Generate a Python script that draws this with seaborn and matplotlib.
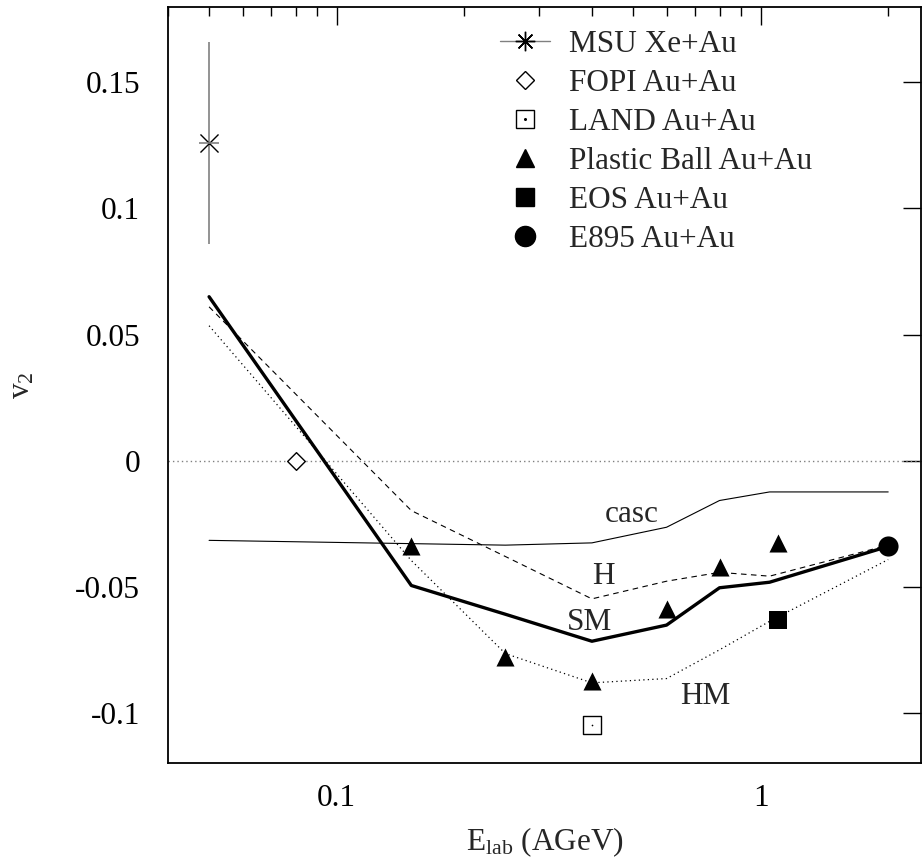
import numpy as np
import pandas as pd
import matplotlib
matplotlib.use("Agg")
import matplotlib.pyplot as plt
from matplotlib.lines import Line2D
from matplotlib.ticker import FixedLocator, FixedFormatter, LogLocator, NullFormatter
import seaborn as sns

# ---------------- data ----------------
msu_E = [0.05]
msu_v2 = [0.126]
msu_err = [0.040]

fopi_E = [0.08]
fopi_v2 = [0.0]

land_E = [0.4]
land_v2 = [-0.105]

pb_E = [0.15, 0.25, 0.4, 0.6, 0.8, 1.1]
pb_v2 = [-0.034, -0.078, -0.0875, -0.059, -0.042, -0.0325]

eos_E = [1.1]
eos_v2 = [-0.063]

e895_E = [2.0]
e895_v2 = [-0.034]

calc_E = [0.05, 0.15, 0.25, 0.4, 0.6, 0.8, 1.05, 2.0]
casc_v2 = [-0.0316, -0.0329, -0.0335, -0.0326, -0.0264, -0.0158, -0.0124, -0.0124]
H_v2 = [0.061, -0.0198, -0.038, -0.0548, -0.0478, -0.0443, -0.0458, -0.0335]
SM_v2 = [0.065, -0.0495, -0.0609, -0.0716, -0.0652, -0.0504, -0.0482, -0.034]
HM_v2 = [0.0535, -0.0396, -0.0765, -0.0881, -0.0864, -0.075, -0.0637, -0.0392]

x_ticks = [0.1, 1]
x_ticklabels = ["0.1", "1"]
y_ticks = [-0.1, -0.05, 0, 0.05, 0.1, 0.15]
y_ticklabels = ["-0.1", "-0.05", "0", "0.05", "0.1", "0.15"]

# ---------------- style ----------------
sns.set_theme(style="white")
plt.rcParams["font.family"] = ["Liberation Serif", "DejaVu Serif"]
plt.rcParams["mathtext.fontset"] = "custom"
plt.rcParams["mathtext.rm"] = "Liberation Serif"
plt.rcParams["mathtext.it"] = "Liberation Serif:italic"
plt.rcParams["axes.unicode_minus"] = False
FS = 22.5

W, H = 922, 867
fig = plt.figure(figsize=(W / 100, H / 100), dpi=100)
fig.patch.set_facecolor("white")
left, right, top, bottom = 168, 921, 6.7, 763.3
ax = fig.add_axes([left / W, (H - bottom) / H, (right - left) / W, (bottom - top) / H])
ax.set_facecolor("white")
ax.set_xscale("log")

# zero line
ax.axhline(0, color="#808080", lw=1.0, ls=(0, (1, 2.2)), zorder=1)

# model curves
models = [
    ("casc", casc_v2, dict(color="black", lw=0.8, ls="-")),
    ("H", H_v2, dict(color="black", lw=0.8, ls=(0, (5, 4)))),
    ("SM", SM_v2, dict(color="black", lw=2.4, ls="-")),
    ("HM", HM_v2, dict(color="black", lw=0.9, ls=(0, (1, 2.6)))),
]
for name, vals, kw in models:
    df = pd.DataFrame({"E": calc_E, "v2": vals})
    sns.lineplot(data=df, x="E", y="v2", ax=ax, sort=False, estimator=None,
                 color=kw["color"], linewidth=kw["lw"], linestyle=kw["ls"], zorder=2)

# MSU with error bar
ax.errorbar(msu_E, msu_v2, yerr=msu_err, fmt="none", ecolor="#808080", elinewidth=1.2, zorder=3)
sns.scatterplot(x=msu_E, y=msu_v2, ax=ax, marker="x", s=13**2, color="black", linewidth=1.0, zorder=4)
sns.scatterplot(x=msu_E, y=msu_v2, ax=ax, marker="_", s=15**2, color="#808080", linewidth=1.2, zorder=4)

# FOPI
sns.scatterplot(x=fopi_E, y=fopi_v2, ax=ax, marker="D", s=9**2, facecolor="white",
                edgecolor="black", linewidth=1.0, zorder=4)
# LAND
sns.scatterplot(x=land_E, y=land_v2, ax=ax, marker="s", s=12.5**2, facecolor="white",
                edgecolor="black", linewidth=1.0, zorder=4)
sns.scatterplot(x=land_E, y=land_v2, ax=ax, marker="o", s=1.2**2, color="black", linewidth=0, zorder=5)
# Plastic Ball
sns.scatterplot(x=pb_E, y=pb_v2, ax=ax, marker="^", s=13**2, color="black", linewidth=0, zorder=4)
# EOS
sns.scatterplot(x=eos_E, y=eos_v2, ax=ax, marker="s", s=12.5**2, color="black", linewidth=0, zorder=4)
# E895
sns.scatterplot(x=e895_E, y=e895_v2, ax=ax, marker="o", s=14.5**2, color="black", linewidth=0, zorder=4)

# curve labels
ax.text(0.496, -0.0212, "casc", fontsize=FS, ha="center", va="center")
ax.text(0.425, -0.0458, "H", fontsize=FS, ha="center", va="center")
ax.text(0.394, -0.0642, "SM", fontsize=FS, ha="center", va="center")
ax.text(0.742, -0.0936, "HM", fontsize=FS, ha="center", va="center")

# axes
ax.set_xlim(0.04, 2.39)
ax.set_ylim(-0.12, 0.18)
ax.xaxis.set_major_locator(FixedLocator(x_ticks))
ax.xaxis.set_major_formatter(FixedFormatter(x_ticklabels))
ax.xaxis.set_minor_locator(LogLocator(base=10, subs=np.arange(2, 10)))
ax.xaxis.set_minor_formatter(NullFormatter())
ax.yaxis.set_major_locator(FixedLocator(y_ticks))
ax.yaxis.set_major_formatter(FixedFormatter(y_ticklabels))

ax.tick_params(which="both", direction="in", top=True, right=True, colors="black",
               labelsize=FS, width=1.0)
ax.tick_params(which="major", length=13, pad=15)
ax.tick_params(axis="y", which="major", pad=20)
ax.tick_params(which="minor", length=6.5)
for sp in ax.spines.values():
    sp.set_color("black")
    sp.set_linewidth(1.3)

ax.set_xlabel(r"E$_{\mathregular{lab}}$ (AGeV)", fontsize=FS, labelpad=9)
ax.set_ylabel(r"v$_{\mathregular{2}}$", fontsize=FS, labelpad=28)

# legend
handles = [
    Line2D([], [], color="#808080", lw=1.0, marker=(8, 2, 0), markersize=14,
           markeredgecolor="black", markeredgewidth=1.0),
    Line2D([], [], ls="none", marker="D", markersize=9, markerfacecolor="white",
           markeredgecolor="black", markeredgewidth=1.0),
    (Line2D([], [], ls="none", marker="s", markersize=12.5, markerfacecolor="white",
            markeredgecolor="black", markeredgewidth=1.0),
     Line2D([], [], ls="none", marker="o", markersize=1.2, color="black")),
    Line2D([], [], ls="none", marker="^", markersize=13, color="black"),
    Line2D([], [], ls="none", marker="s", markersize=12.5, color="black"),
    Line2D([], [], ls="none", marker="o", markersize=14.5, color="black"),
]
labels = ["MSU Xe+Au", "FOPI Au+Au", "LAND Au+Au", "Plastic Ball Au+Au", "EOS Au+Au", "E895 Au+Au"]
leg = ax.legend(handles, labels, loc="upper left", bbox_to_anchor=(500 / W, 1 - 30 / H),
                bbox_transform=fig.transFigure, frameon=False, fontsize=FS,
                handlelength=1.6, handletextpad=0.6, labelspacing=0.32,
                borderpad=0, borderaxespad=0)

fig.savefig("out.png", dpi=100, facecolor="white")
